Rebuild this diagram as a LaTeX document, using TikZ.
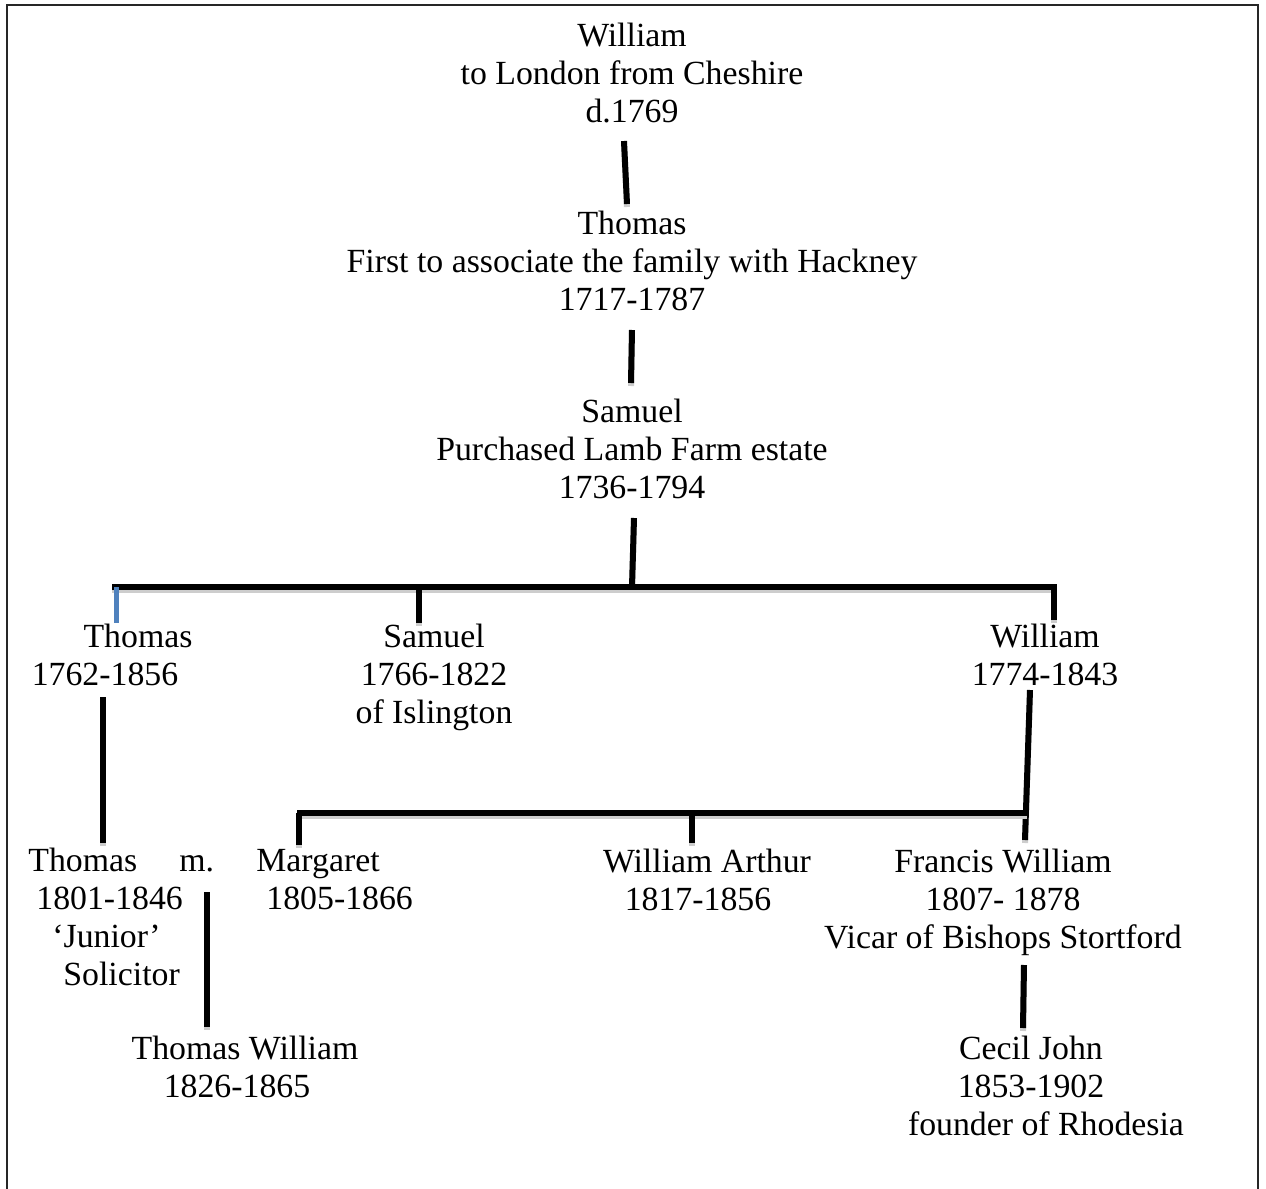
\documentclass[tikz,border=0pt]{standalone}
\usepackage{fontspec}
\setmainfont{Liberation Serif}
\usepackage{tikz}
\definecolor{shade}{RGB}{205,205,205}
\definecolor{steel}{RGB}{79,129,189}

\begin{document}
\begin{tikzpicture}[x=0.5pt,y=-0.5pt,
	person/.style={align=center, inner sep=0pt, font=\fontsize{16.9}{19}\selectfont},
	famline/.style={line width=3pt, preaction={draw=shade, line width=3pt, transform canvas={yshift=-1.5pt}}}]
	\useasboundingbox (0,0) rectangle (1266,1189);
	\draw[line width=1pt, black!85] (7,1189) -- (7,5) -- (1258,5) -- (1258,1189);

	\node[person] (william) at (632,73) {William\\to London from Cheshire\\d.1769};
	\node[person] (thomas) at (632,261) {Thomas\\First to associate the family with Hackney\\1717-1787};
	\node[person] (samuel) at (632,449) {Samuel\\Purchased Lamb Farm estate\\1736-1794};
	\node[person] (thomasB) at (105,655) {\hspace*{33pt}Thomas\\1762-1856};
	\node[person] (samuelB) at (434,677) {Samuel\\1766-1822\\of Islington};
	\node[person] (williamB) at (1045,655) {William\\1774-1843};
	\node[person, align=left, anchor=west] (thomasC) at (28,917) {Thomas\hspace{21pt}m.\\\hspace*{4pt}1801-1846\\\hspace*{12pt}‘Junior’\\\hspace*{17.5pt}Solicitor};
	\node[person, align=left, anchor=west] (margaret) at (256,880) {Margaret\\\hspace*{5pt}1805-1866};
	\node[person] (arthur) at (698,880) {\hspace*{9pt}William Arthur\\1817-1856};
	\node[person] (francis) at (1003,902) {Francis William\\1807- 1878\\Vicar of Bishops Stortford};
	\node[person] (thomasD) at (237,1067) {\hspace*{8pt}Thomas William\\1826-1865};
	\node[person] (cecil) at (1031,1086) {Cecil John\\1853-1902\\\hspace*{15pt}founder of Rhodesia};

	% line ends
	\coordinate (w-d) at (624,141); \coordinate (t-u) at (627,204);
	\coordinate (t-d) at (632,330); \coordinate (s-u) at (631,383);
	\coordinate (s-d) at (634,518); \coordinate (s-bar) at (632,587);
	\coordinate (bar1-l) at (112,587); \coordinate (bar1-r) at (1057,587);
	\coordinate (tb-u) at (116,623); \coordinate (sb-u) at (419,623); \coordinate (wb-u) at (1054,620);
	\coordinate (wb-d) at (1030,690); \coordinate (fr-u) at (1025,840);
	\coordinate (bar2-l) at (297,813); \coordinate (bar2-r) at (1027,813);
	\coordinate (ma-u) at (299,845); \coordinate (ar-u) at (692,843);
	\coordinate (tb-d) at (103,697); \coordinate (tc-u) at (103,843);
	\coordinate (tc-d) at (207,892); \coordinate (td-u) at (207,1027);
	\coordinate (fr-d) at (1024,965); \coordinate (ce-u) at (1023,1028);

	% generations 1 to 3
	\draw[famline] (w-d) -- (t-u);
	\draw[famline] (t-d) -- (s-u);
	\draw[famline] (s-d) -- (s-bar);
	% children of Samuel
	\draw[famline] (bar1-l) -- (bar1-r);
	\draw[line width=2.5pt, steel] (bar1-l -| tb-u) -- (tb-u);
	\draw[famline] (bar1-l -| sb-u) -- (sb-u);
	\draw[famline] (bar1-l -| wb-u) -- (wb-u);
	% children of William
	\draw[famline] (wb-d) -- (fr-u);
	\draw[famline] (bar2-l) -- (bar2-r);
	\draw[famline] (bar2-l -| ma-u) -- (ma-u);
	\draw[famline] (bar2-l -| ar-u) -- (ar-u);
	% Thomas and Francis lines
	\draw[famline] (tb-d) -- (tc-u);
	\draw[famline] (tc-d) -- (td-u);
	\draw[famline] (fr-d) -- (ce-u);
\end{tikzpicture}
\end{document}
